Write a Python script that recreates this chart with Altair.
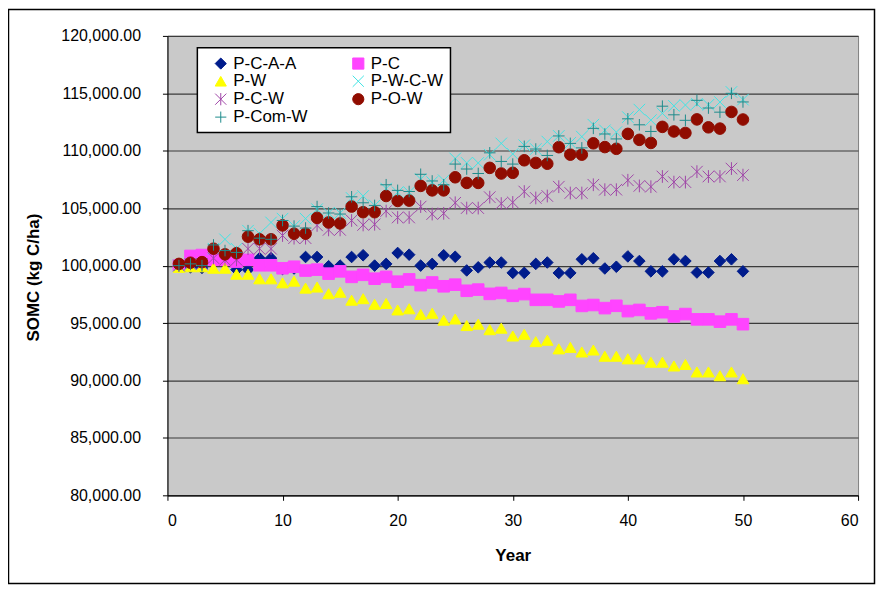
import altair as alt
import pandas as pd

years = list(range(1, 51))

series_names = ["P-C-A-A", "P-C", "P-W", "P-W-C-W", "P-C-W", "P-O-W", "P-Com-W"]

p_c_a_a = [100000, 99850, 99800, 100600, 100550, 99650, 99650, 100650, 100650, 99700,
           99750, 100750, 100750, 99950, 100000, 100750, 100900, 100000, 100150, 101100,
           100950, 100000, 100150, 100900, 100770, 99580, 99850, 100270, 100270, 99370,
           99370, 100150, 100270, 99360, 99360, 100550, 100640, 99750, 99900, 100800,
           100400, 99500, 99500, 100550, 100400, 99400, 99400, 100400, 100550, 99500]

p_c = [100000, 100840, 100920, 100500, 100500, 100350, 100500, 100030, 100030, 99770,
       99900, 99570, 99650, 99300, 99500, 99020, 99200, 98860, 99020, 98600,
       98800, 98300, 98530, 98200, 98340, 97810, 97910, 97540, 97620, 97370,
       97520, 97020, 97020, 96880, 97020, 96490, 96570, 96300, 96500, 96040,
       96140, 95840, 95940, 95580, 95780, 95320, 95320, 95120, 95320, 94900]

p_w = [99850, 99900, 99900, 99770, 99770, 99250, 99250, 98850, 98850, 98500,
       98650, 98040, 98130, 97550, 97680, 96990, 97120, 96630, 96700, 96140,
       96240, 95750, 95850, 95250, 95350, 94780, 94900, 94420, 94550, 93870,
       94020, 93380, 93500, 92750, 92880, 92480, 92650, 92110, 92110, 91880,
       91880, 91590, 91590, 91260, 91390, 90740, 90740, 90410, 90740, 90150]

p_w_c_w = [100000, 100150, 100150, 101470, 102290, 101470, 103040, 102780, 103760, 104090,
           103440, 104090, 104910, 104580, 104580, 105890, 106060, 105240, 106710, 106380,
           106380, 107530, 107270, 107430, 109330, 108940, 108940, 109660, 110640, 109720,
           110480, 110150, 110800, 111290, 110700, 111230, 112270, 111780, 111620, 112930,
           113580, 112670, 113260, 113910, 113980, 114080, 114000, 114240, 115120, 114450]

p_c_w = [100000, 100150, 100150, 100650, 100500, 100500, 101470, 101470, 101470, 102620,
         102390, 102390, 103500, 103110, 103110, 103930, 103540, 103600, 104750, 104190,
         104190, 105140, 104490, 104550, 105470, 105010, 105010, 105960, 105400, 105500,
         106450, 105890, 106060, 106870, 106320, 106320, 107040, 106610, 106610, 107430,
         106940, 106870, 107760, 107270, 107270, 108180, 107760, 107760, 108450, 107880]

p_o_w = [100150, 100250, 100300, 101470, 100980, 101080, 102520, 102290, 102290, 103500,
         102780, 102780, 104160, 103760, 103670, 105140, 104650, 104650, 106060, 105630,
         105660, 106940, 106550, 106550, 107690, 107200, 107200, 108510, 108020, 108080,
         109170, 108940, 108870, 110310, 109660, 109660, 110650, 110320, 110170, 111470,
         110950, 110680, 112080, 111680, 111550, 112730, 112040, 111930, 113380, 112720]

p_com_w = [100000, 100150, 100000, 101800, 101310, 101150, 103040, 102390, 102290, 103930,
           103440, 103270, 105140, 104580, 104490, 105990, 105470, 105240, 107040, 106550,
           106450, 107950, 107370, 107040, 108840, 108410, 108020, 109820, 109070, 108840,
           110380, 110150, 109590, 111290, 110640, 110250, 111950, 111460, 111030, 112780,
           112260, 111680, 113880, 113130, 112650, 114390, 113720, 113360, 115000, 114250]

values = [p_c_a_a, p_c, p_w, p_w_c_w, p_c_w, p_o_w, p_com_w]

stroke_colors = ["#001C8C", "#FF44FF", "#FFFF00", "#40E4E4", "#A046A8", "#900C00", "#1E8C8C"]
fill_colors = ["#001C8C", "#FF44FF", "#FFFF00", "transparent", "transparent", "#900C00", "transparent"]
shapes = [
    "diamond",
    "square",
    "triangle-up",
    "M-1,-1L1,1M-1,1L1,-1",
    "M-1,-1L1,1M-1,1L1,-1M0,-1.1L0,1.1",
    "circle",
    "M-1,0L1,0M0,-1L0,1",
]

y_ticks = list(range(80000, 120001, 5000))
x_ticks = list(range(0, 61, 10))

rows = []
for si, (name, vals) in enumerate(zip(series_names, values)):
    for yr, v in zip(years, vals):
        rows.append({"Year": yr, "SOMC": v, "Series": name, "idx": si * 100 + yr})
df = pd.DataFrame(rows)

FONT = "Liberation Sans"

legend = alt.Legend(
    title=None,
    orient="none",
    legendX=30,
    legendY=12,
    columns=2,
    direction="horizontal",
    fillColor="white",
    strokeColor="black",
    padding=7,
    rowPadding=0,
    columnPadding=34,
    labelFont=FONT,
    labelFontSize=17,
    labelColor="black",
    labelOffset=4,
    symbolSize=125,
    symbolStrokeWidth=1,
    symbolOffset=8,
    labelLimit=200,
)

points = alt.Chart(df).mark_point(opacity=1, size=135, strokeWidth=1).encode(
    x=alt.X(
        "Year:Q",
        scale=alt.Scale(domain=[0, 60], nice=False, zero=False),
        axis=alt.Axis(
            values=x_ticks,
            grid=False,
            title="Year",
            tickSize=5,
            labelPadding=12,
            titlePadding=19,
        ),
    ),
    y=alt.Y(
        "SOMC:Q",
        scale=alt.Scale(domain=[80000, 120000], nice=False, zero=False),
        axis=alt.Axis(
            values=y_ticks,
            format=",.2f",
            grid=True,
            title="SOMC (kg C/ha)",
            titleY=242,
            tickSize=5,
            labelPadding=22,
            titlePadding=18,
        ),
    ),
    shape=alt.Shape("Series:N", scale=alt.Scale(domain=series_names, range=shapes), legend=legend),
    stroke=alt.Stroke("Series:N", scale=alt.Scale(domain=series_names, range=stroke_colors), legend=legend),
    fill=alt.Fill("Series:N", scale=alt.Scale(domain=series_names, range=fill_colors), legend=legend),
    order=alt.Order("idx:Q"),
)

frame = alt.Chart(alt.Data(values=[{"a": 1}])).mark_rect(
    fill="transparent", stroke="black", strokeWidth=1.5
).encode(
    x=alt.value(-159.5), x2=alt.value(709.5), y=alt.value(-26.5), y2=alt.value(549.5)
)

chart = alt.layer(frame, points).properties(
    width=693,
    height=461,
    autosize=alt.AutoSizeParams(type="none"),
    padding={"left": 160, "top": 27, "right": 18, "bottom": 90},
    background="white",
).configure_view(
    fill="#C9C9C9", stroke="#808080", strokeWidth=1
).configure_legend(
    strokeWidth=1.5
).configure_axis(
    labelFont=FONT,
    labelFontSize=16,
    labelColor="black",
    titleFont=FONT,
    titleFontSize=17,
    titleFontWeight="bold",
    titleColor="black",
    domainColor="black",
    domainWidth=1,
    tickColor="black",
    tickWidth=1,
    gridColor="#3a3a3a",
    gridWidth=1.2,
)

chart.save("out.html", embed_options={"renderer": "svg", "actions": False})
